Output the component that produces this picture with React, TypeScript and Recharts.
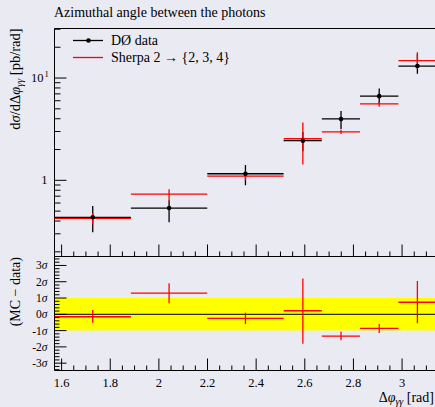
import React from 'react';
import {
  ComposedChart,
  Scatter,
  ErrorBar,
  XAxis,
  YAxis,
  ReferenceArea,
  ReferenceLine,
} from 'recharts';

// bins in delta phi (rad)
const binLow = [1.571, 1.885, 2.199, 2.513, 2.67, 2.827, 2.985];
const binHigh = [1.885, 2.199, 2.513, 2.67, 2.827, 2.985, 3.142];
const binMid = [1.728, 2.042, 2.356, 2.592, 2.749, 2.906, 3.063];

// D0 data (pb/rad)
const dataVals = [0.435, 0.536, 1.16, 2.44, 3.98, 6.65, 13.1];
const dataHi = [0.56, 0.64, 1.41, 2.96, 4.76, 7.9, 17.2];
const dataLo = [0.31, 0.39, 0.895, 1.92, 3.17, 5.56, 11.0];

// Sherpa prediction
const mcVals = [0.425, 0.732, 1.1, 2.55, 2.98, 5.6, 14.8];
const mcHi = [0.48, 0.818, 1.22, 3.67, 3.12, 5.86, 17.9];
const mcLo = [0.37, 0.63, 1.0, 1.43, 2.84, 5.24, 12.3];

// (MC - data) / sigma
const ratioVals = [-0.15, 1.3, -0.25, 0.22, -1.34, -0.86, 0.74];
const ratioHi = [0.27, 1.9, 0.1, 2.2, -1.07, -0.6, 2.05];
const ratioLo = [-0.52, 0.68, -0.6, -1.8, -1.59, -1.14, -0.55];

const xMajor = [1.6, 1.8, 2, 2.2, 2.4, 2.6, 2.8, 3];
const xMinor = [
  1.65, 1.7, 1.75, 1.85, 1.9, 1.95, 2.05, 2.1, 2.15, 2.25, 2.3, 2.35,
  2.45, 2.5, 2.55, 2.65, 2.7, 2.75, 2.85, 2.9, 2.95, 3.05, 3.1,
];
const logTicks = [0.2, 0.3, 0.4, 0.5, 0.6, 0.7, 0.8, 0.9, 1, 2, 3, 4, 5, 6, 7, 8, 9, 10, 20, 30];
const sigmaMajor = [-3, -2, -1, 0, 1, 2, 3];
const sigmaMinor = [
  -3.4, -3.2, -2.8, -2.6, -2.4, -2.2, -1.8, -1.6, -1.4, -1.2, -0.8, -0.6, -0.4, -0.2,
  0.2, 0.4, 0.6, 0.8, 1.2, 1.4, 1.6, 1.8, 2.2, 2.4, 2.6, 2.8, 3.2, 3.4,
];

const X_DOMAIN: [number, number] = [1.5708, 3.1416];
const Y_DOMAIN: [number, number] = [0.18, 30.5];
const R_DOMAIN: [number, number] = [-3.45, 3.55];

const FONT = '"Liberation Serif", serif';
const RED = '#FF0000';

const rows = binMid.map((x, i) => ({
  x,
  xErr: [x - binLow[i], binHigh[i] - x],
  data: dataVals[i],
  dataErr: [dataVals[i] - dataLo[i], dataHi[i] - dataVals[i]],
  mc: mcVals[i],
  mcErr: [mcVals[i] - mcLo[i], mcHi[i] - mcVals[i]],
  ratio: ratioVals[i],
  ratioErr: [ratioVals[i] - ratioLo[i], ratioHi[i] - ratioVals[i]],
}));

const xTicks = [...xMajor, ...xMinor].sort((a, b) => a - b);
const isMajorX = (v: number) => xMajor.some((m) => Math.abs(m - v) < 1e-6);

const TopXTick = (props: any) => {
  const { x, y, payload } = props;
  const len = isMajorX(payload.value) ? 12 : 5;
  return <line x1={x} x2={x} y1={y} y2={y - len} stroke="#000" strokeWidth={1} />;
};

const BottomXTick = (props: any) => {
  const { x, y, payload } = props;
  const major = isMajorX(payload.value);
  return (
    <g>
      <line x1={x} x2={x} y1={y} y2={y - (major ? 12 : 5)} stroke="#000" strokeWidth={1} />
      {major && (
        <text x={x} y={y + 16} textAnchor="middle" fontFamily={FONT} fontSize={12.5} fill="#000">
          {String(payload.value)}
        </text>
      )}
    </g>
  );
};

const LogYTick = (props: any) => {
  const { x, y, payload } = props;
  const v = payload.value;
  const major = v === 1 || v === 10;
  return (
    <g>
      <line x1={x} x2={x + (major ? 12 : 6)} y1={y} y2={y} stroke="#000" strokeWidth={1} />
      {v === 1 && (
        <text x={x - 7} y={y + 4} textAnchor="end" fontFamily={FONT} fontSize={12.5} fill="#000">
          1
        </text>
      )}
      {v === 10 && (
        <text x={x - 11} y={y + 4} textAnchor="end" fontFamily={FONT} fontSize={12.5} fill="#000">
          10
        </text>
      )}
      {v === 10 && (
        <text x={x - 10} y={y - 1} textAnchor="start" fontFamily={FONT} fontSize={8.5} fill="#000">
          1
        </text>
      )}
    </g>
  );
};

const SigmaTick = (props: any) => {
  const { x, y, payload } = props;
  const v = payload.value;
  const major = sigmaMajor.includes(v);
  return (
    <g>
      <line x1={x} x2={x + (major ? 12 : 5)} y1={y} y2={y} stroke="#000" strokeWidth={1} />
      {major && (
        <text x={x - 7} y={y + 4} textAnchor="end" fontFamily={FONT} fontSize={11.5} fill="#000">
          {String(v)}
          <tspan fontStyle="italic">σ</tspan>
        </text>
      )}
    </g>
  );
};

const noShape = () => <g />;
const dotShape = (p: any) => <circle cx={p.cx} cy={p.cy} r={2.3} fill="#000" />;

export default function App() {
  return (
    <div
      style={{
        position: 'fixed',
        left: 0,
        top: 0,
        width: 435,
        height: 407,
        overflow: 'hidden',
        background: '#EAEAF2',
      }}
    >
      <div style={{ position: 'absolute', left: 0, top: 0 }}>
        <ComposedChart
          width={460}
          height={258}
          data={rows}
          margin={{ top: 28.5, right: 23.5, bottom: 0.5, left: 0 }}
        >
          <XAxis
            type="number"
            dataKey="x"
            domain={X_DOMAIN}
            allowDataOverflow
            ticks={xTicks}
            interval={0}
            height={1}
            tickSize={0}
            tickMargin={0}
            axisLine={false}
            tickLine={false}
            tick={<TopXTick />}
          />
          <YAxis
            type="number"
            scale="log"
            domain={Y_DOMAIN}
            allowDataOverflow
            ticks={logTicks}
            interval={0}
            width={54.5}
            tickSize={0}
            tickMargin={0}
            axisLine={false}
            tickLine={false}
            tick={<LogYTick />}
          />
          <ReferenceArea
            x1={X_DOMAIN[0]}
            x2={X_DOMAIN[1]}
            y1={Y_DOMAIN[0]}
            y2={Y_DOMAIN[1]}
            fill="none"
            stroke="#000"
            strokeWidth={1}
            ifOverflow="visible"
          />
          <Scatter dataKey="data" shape={noShape} isAnimationActive={false}>
            <ErrorBar dataKey="xErr" direction="x" width={0} stroke="#000" strokeWidth={1.3} />
            <ErrorBar dataKey="dataErr" direction="y" width={0} stroke="#000" strokeWidth={1.3} />
          </Scatter>
          <Scatter dataKey="mc" shape={noShape} isAnimationActive={false}>
            <ErrorBar dataKey="xErr" direction="x" width={0} stroke={RED} strokeWidth={1.3} />
            <ErrorBar dataKey="mcErr" direction="y" width={0} stroke={RED} strokeWidth={1.3} />
          </Scatter>
          <Scatter dataKey="data" shape={dotShape} isAnimationActive={false} />
        </ComposedChart>
      </div>

      <div style={{ position: 'absolute', left: 0, top: 0 }}>
        <ComposedChart
          width={460}
          height={407}
          data={rows}
          margin={{ top: 256.5, right: 23.5, bottom: 0, left: 0 }}
        >
          <XAxis
            type="number"
            dataKey="x"
            domain={X_DOMAIN}
            allowDataOverflow
            ticks={xTicks}
            interval={0}
            height={36.5}
            tickSize={0}
            tickMargin={0}
            axisLine={false}
            tickLine={false}
            tick={<BottomXTick />}
          />
          <YAxis
            type="number"
            domain={R_DOMAIN}
            allowDataOverflow
            ticks={[...sigmaMajor, ...sigmaMinor].sort((a, b) => a - b)}
            interval={0}
            width={54.5}
            tickSize={0}
            tickMargin={0}
            axisLine={false}
            tickLine={false}
            tick={<SigmaTick />}
          />
          <ReferenceArea
            x1={X_DOMAIN[0]}
            x2={X_DOMAIN[1]}
            y1={-1}
            y2={1}
            fill="#FFFF00"
            fillOpacity={1}
            stroke="none"
            ifOverflow="visible"
          />
          <ReferenceLine y={0} stroke="#000" strokeWidth={1} />
          <ReferenceArea
            x1={X_DOMAIN[0]}
            x2={X_DOMAIN[1]}
            y1={R_DOMAIN[0]}
            y2={R_DOMAIN[1]}
            fill="none"
            stroke="#000"
            strokeWidth={1}
            ifOverflow="visible"
          />
          <Scatter dataKey="ratio" shape={noShape} isAnimationActive={false}>
            <ErrorBar dataKey="xErr" direction="x" width={0} stroke={RED} strokeWidth={1.3} />
            <ErrorBar dataKey="ratioErr" direction="y" width={0} stroke={RED} strokeWidth={1.3} />
          </Scatter>
        </ComposedChart>
      </div>

      <svg
        width={435}
        height={407}
        style={{ position: 'absolute', left: 0, top: 0, pointerEvents: 'none' }}
      >
        <text x={54} y={17} fontFamily={FONT} fontSize={14} fill="#000">
          Azimuthal angle between the photons
        </text>

        <line x1={73} x2={103} y1={40.5} y2={40.5} stroke="#000" strokeWidth={1.3} />
        <circle cx={88.5} cy={40.5} r={2.3} fill="#000" />
        <text x={111} y={45} fontFamily={FONT} fontSize={14} fill="#000">
          DØ data
        </text>
        <line x1={73} x2={103} y1={57.5} y2={57.5} stroke={RED} strokeWidth={1.3} />
        <text x={111} y={62} fontFamily={FONT} fontSize={14} fill="#000">
          Sherpa 2 → {'{'}2, 3, 4{'}'}
        </text>

        <text
          transform="translate(19.5, 28.5) rotate(-90)"
          textAnchor="end"
          fontFamily={FONT}
          fontSize={14.5}
          fill="#000"
        >
          d<tspan fontStyle="italic">σ</tspan>/dΔ<tspan fontStyle="italic">φ</tspan>
          <tspan fontStyle="italic" fontSize={10} dy={3}>γγ</tspan>
          <tspan dy={-3}> [pb/rad]</tspan>
        </text>
        <text
          transform="translate(19.5, 257) rotate(-90)"
          textAnchor="end"
          fontFamily={FONT}
          fontSize={14}
          fill="#000"
        >
          (MC − data)
        </text>
        <text x={434} y={402} textAnchor="end" fontFamily={FONT} fontSize={14} fill="#000">
          Δ<tspan fontStyle="italic">φ</tspan>
          <tspan fontStyle="italic" fontSize={10} dy={3}>γγ</tspan>
          <tspan dy={-3}> [rad]</tspan>
        </text>
      </svg>
    </div>
  );
}
